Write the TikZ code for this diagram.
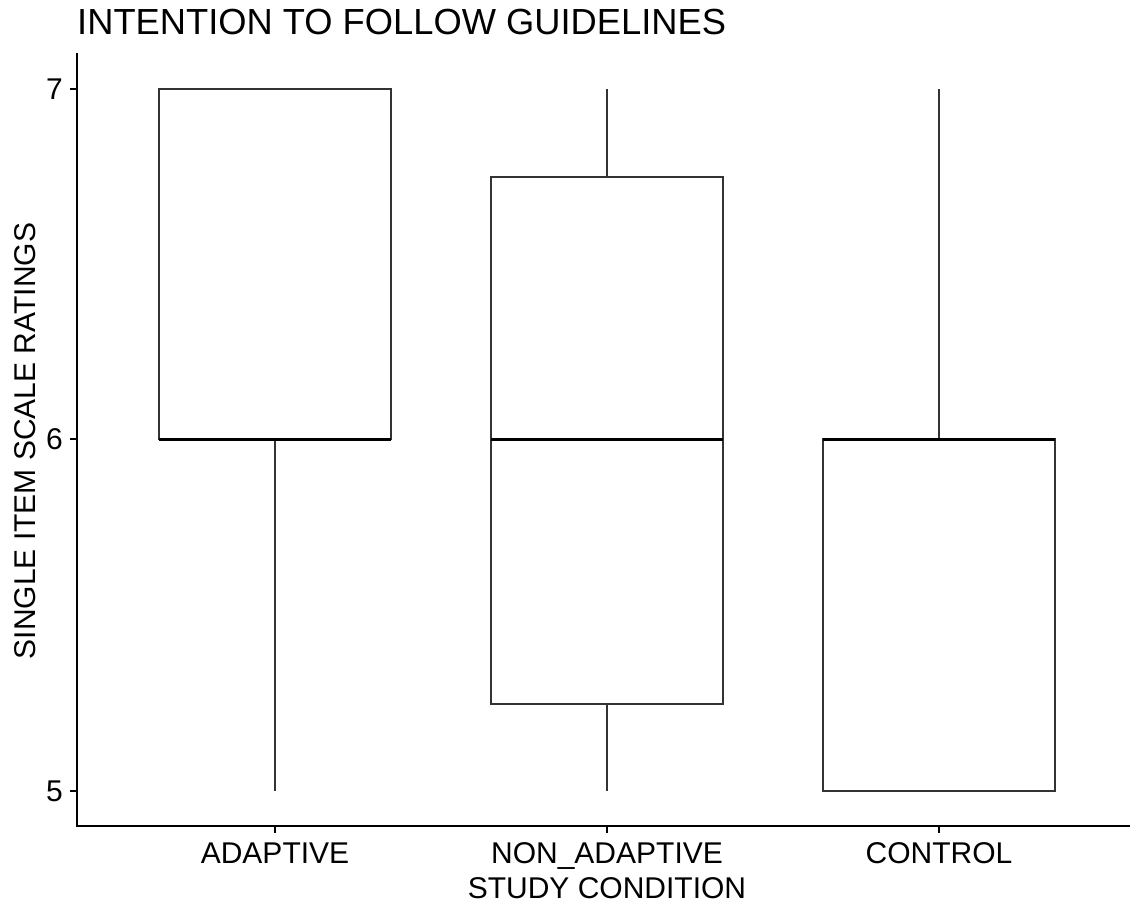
\documentclass[tikz,border=0pt]{standalone}
\usepackage{fontspec}
\setmainfont{Liberation Sans}
\definecolor{grey20}{HTML}{333333}
\begin{document}
\begin{tikzpicture}[x=1pt,y=-1pt,
  axisline/.style={black,line width=1.4pt},
  boxline/.style={grey20,line width=1.4pt},
  medianline/.style={black,line width=3pt},
  axistext/.style={inner sep=0pt,font=\fontsize{30}{36}\selectfont},
  titletext/.style={inner sep=0pt,font=\fontsize{36.3}{43}\selectfont}]
\useasboundingbox (0,0) rectangle (1130,905);

% title
\node[titletext,anchor=base west] (title) at (77,34) {INTENTION TO FOLLOW GUIDELINES};

% axes
\draw[axisline] (77,53) -- (77,826) -- (1130,826);
\foreach \v/\yy in {7/89,6/439,5/791}{
  \draw[axisline] (70,\yy) -- (77,\yy);
  \node[axistext,anchor=east] (ytick\v) at (63,\yy) {\v};
}
\foreach \xx in {275,607,939}{
  \draw[axisline] (\xx,826) -- (\xx,833);
}
\node[axistext,anchor=base] (xadaptive) at (275,863) {ADAPTIVE};
\node[axistext,anchor=base] (xnonadaptive) at (607,863) {NON\_ADAPTIVE};
\node[axistext,anchor=base] (xcontrol) at (939,863) {CONTROL};
\node[axistext,anchor=base] (xtitle) at (607,898) {STUDY CONDITION};
\node[axistext,rotate=90,anchor=center] (ytitle) at (25,441) {SINGLE ITEM SCALE RATINGS};

% ADAPTIVE: box 6..7, median 6, lower whisker to 5
\draw[boxline] (275,439) -- (275,791);
\draw[boxline,fill=white] (159,89) rectangle (391,439);
\draw[medianline] (159,439) -- (391,439);

% NON_ADAPTIVE: box 5.25..6.75, median 6, whiskers 5..7
\draw[boxline] (607,89) -- (607,177);
\draw[boxline] (607,704) -- (607,791);
\draw[boxline,fill=white] (491,177) rectangle (723,704);
\draw[medianline] (491,439) -- (723,439);

% CONTROL: box 5..6, median 6, upper whisker to 7
\draw[boxline] (939,89) -- (939,439);
\draw[boxline,fill=white] (823,439) rectangle (1055,791);
\draw[medianline] (823,439) -- (1055,439);
\end{tikzpicture}
\end{document}
